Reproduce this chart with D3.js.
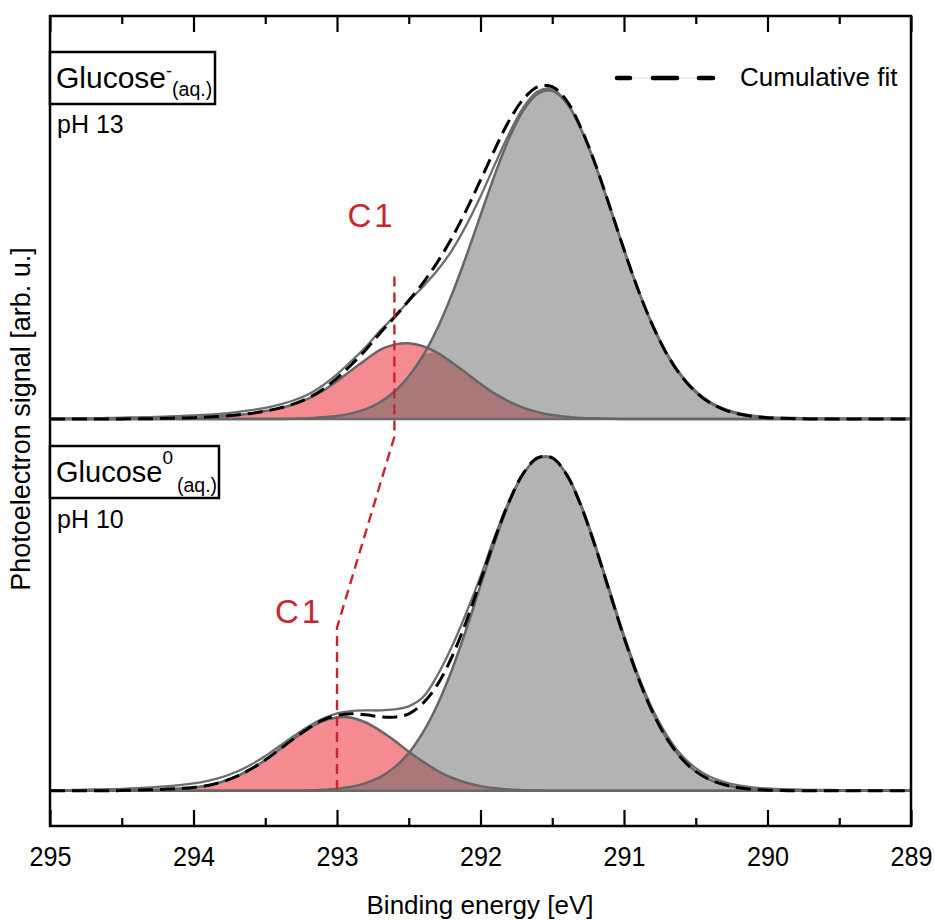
<!DOCTYPE html>
<html>
<head>
<meta charset="utf-8">
<script src="https://cdn.jsdelivr.net/npm/d3@7"></script>
<style>
  body { margin: 0; background: #fff; }
  text { font-family: "Liberation Sans", Arial, Helvetica, sans-serif; }
</style>
</head>
<body>
<script>
// binding energy grid (eV), high -> low like the plot
let energies = [295.0, 294.9, 294.8, 294.7, 294.6, 294.5, 294.4, 294.3, 294.2, 294.1,
  294.0, 293.9, 293.8, 293.7, 293.6, 293.5, 293.4, 293.3, 293.2, 293.1,
  293.0, 292.9, 292.8, 292.7, 292.6, 292.5, 292.4, 292.3, 292.2, 292.1,
  292.0, 291.9, 291.8, 291.7, 291.6, 291.5, 291.4, 291.3, 291.2, 291.1,
  291.0, 290.9, 290.8, 290.7, 290.6, 290.5, 290.4, 290.3, 290.2, 290.1,
  290.0, 289.9, 289.8, 289.7, 289.6, 289.5, 289.4, 289.3, 289.2, 289.1, 289.0];

// top panel: Glucose- (pH 13)
let grayTop = [0, 0, 0, 0, 0, 0, 0, 0, 0, 0, 0, 0, 0, 0, 0, 0, 0,
  .001, .002, .005, .009, .017, .030, .051, .083, .130, .193, .276, .378, .494, .619, .743, .854, .939, .989, .998,
  .961, .882, .773, .646, .515, .391, .284, .196, .130, .082, .049, .028, .015, .008, .004, .002, .001,
  0, 0, 0, 0, 0, 0, 0, 0];
let redTop = [0, 0, 0, 0, 0, 0,
  .001, .001, .002, .003, .004, .006, .008, .012, .017, .024, .033, .045, .062, .085, .115, .148, .180, .210, .226, .230,
  .221, .201, .172, .140, .107, .077, .053, .034, .021, .012, .007, .003, .002, .001,
  0, 0, 0, 0, 0, 0, 0, 0, 0, 0, 0, 0, 0, 0, 0, 0, 0, 0, 0, 0, 0];
let fitTop = [0, 0, 0, 0, 0, 0,
  .001, .001, .002, .003, .004, .006, .008, .012, .017, .024, .033, .046, .064, .090, .124, .165, .210, .261, .309, .360,
  .414, .477, .550, .634, .726, .820, .907, .973, 1.010, 1.010, .968, .885, .775, .647, .515, .391, .284, .196, .130, .082,
  .049, .028, .015, .008, .004, .002, .001,
  0, 0, 0, 0, 0, 0, 0, 0];
let dataTop = [.001, .001, .002, .002, .003, .004, .005, .006, .007, .009, .011, .013, .016, .021, .027, .034, .044, .057, .075, .102,
  .136, .176, .219, .268, .312, .358, .403, .452, .512, .588, .676, .774, .868, .948, .996, 1.003, .963, .881, .772, .645,
  .514, .391, .285, .198, .133, .085, .052, .031, .018, .010, .006, .004, .003, .002, .002, .001, .001, .001, .001, .001, .001];

// bottom panel: Glucose0 (pH 10)
let grayBot = [0, 0, 0, 0, 0, 0, 0, 0, 0, 0, 0, 0, 0, 0, 0, 0, 0, 0,
  .001, .003, .006, .012, .023, .041, .070, .113, .175, .257, .360, .481, .613, .744, .860, .947, .994, .994,
  .944, .851, .729, .593, .458, .336, .234, .155, .097, .058, .033, .018, .009, .004, .002, .001,
  0, 0, 0, 0, 0, 0, 0, 0, 0];
let redBot = [0, 0, 0, 0, 0,
  .001, .002, .003, .005, .007, .010, .016, .027, .043, .065, .092, .124, .156, .185, .208, .219, .218, .204, .180, .150,
  .117, .087, .060, .039, .024, .014, .008, .004, .002, .001,
  0, 0, 0, 0, 0, 0, 0, 0, 0, 0, 0, 0, 0, 0, 0, 0, 0, 0, 0, 0, 0, 0, 0, 0, 0, 0];
let fitBot = [0, 0, 0, 0, 0,
  .001, .002, .003, .005, .007, .010, .016, .027, .043, .065, .092, .124, .156, .186, .211, .225, .230, .227, .221, .220,
  .230, .262, .317, .399, .505, .627, .752, .864, .949, .995, .994, .944, .851, .729, .593, .458, .336, .234, .155, .097,
  .058, .033, .018, .009, .004, .002, .001,
  0, 0, 0, 0, 0, 0, 0, 0, 0];
let dataBot = [.002, .002, .003, .004, .005, .006, .008, .010, .013, .017, .022, .030, .041, .057, .078, .104, .134, .164, .192, .215,
  .231, .238, .240, .240, .243, .252, .280, .345, .430, .530, .640, .760, .866, .948, .992, .993, .946, .855, .734, .599,
  .465, .344, .243, .165, .107, .068, .042, .026, .016, .010, .007, .005, .004, .003, .003, .002, .002, .002, .002, .002, .002];

let majorTicks = [295, 294, 293, 292, 291, 290, 289];
let minorTicks = [294.5, 293.5, 292.5, 291.5, 290.5, 289.5];

// C1 marker energies: pH 13 peak, pH 10 peak
let c1Energies = [292.6, 293.0];

let svg = d3.select('body').append('svg')
  .attr('width', 935)
  .attr('height', 920);

let x = d3.scaleLinear().domain([295, 289]).range([50, 911]);
let yTop = d3.scaleLinear().domain([0, 1.225]).range([419, 16]);
let yBot = d3.scaleLinear().domain([-0.105, 1.11]).range([826, 419]);

let curve = d3.curveCatmullRom.alpha(0.5);

let panels = [
  {y: yTop, gray: grayTop, red: redTop, fit: fitTop, data: dataTop},
  {y: yBot, gray: grayBot, red: redBot, fit: fitBot, data: dataBot}
];

panels.forEach(function(p) {
  let area = function(vals) {
    return d3.area()
      .x(function(d, i) { return x(energies[i]); })
      .y0(p.y(0))
      .y1(function(d) { return p.y(Math.max(d, 0)); })
      .curve(curve)(vals);
  };
  let line = function(vals) {
    return d3.line()
      .x(function(d, i) { return x(energies[i]); })
      .y(function(d) { return p.y(d); })
      .curve(curve)(vals);
  };
  let overlap = p.gray.map(function(g, i) { return Math.min(g, p.red[i]); });

  let g = svg.append('g');
  g.append('path').attr('d', area(p.gray)).attr('fill', '#b3b3b3');
  g.append('path').attr('d', area(p.red)).attr('fill', '#f48b90');
  g.append('path').attr('d', area(overlap)).attr('fill', '#aa7878');

  // baseline
  g.append('line')
    .attr('x1', x(295)).attr('x2', x(289))
    .attr('y1', p.y(0)).attr('y2', p.y(0))
    .attr('stroke', '#6a6a6a').attr('stroke-width', 2.5);

  g.append('path').attr('d', line(p.gray))
    .attr('fill', 'none').attr('stroke', '#666').attr('stroke-width', 2.5);
  g.append('path').attr('d', line(p.red))
    .attr('fill', 'none').attr('stroke', '#666').attr('stroke-width', 2.5);
  g.append('path').attr('d', line(p.data))
    .attr('fill', 'none').attr('stroke', '#6e6e6e').attr('stroke-width', 2.3);
  g.append('path').attr('d', line(p.fit))
    .attr('fill', 'none').attr('stroke', '#000').attr('stroke-width', 3)
    .attr('stroke-dasharray', '15,7');
});

// C1 guide line from top peak position to bottom peak position
let c1Path = [
  [x(c1Energies[0]), yTop(0.433)],
  [x(c1Energies[0]), yTop(-0.054)],
  [x(c1Energies[1]), yBot(0.487)],
  [x(c1Energies[1]), yBot(-0.015)]
];
svg.append('path')
  .attr('d', d3.line()(c1Path))
  .attr('fill', 'none')
  .attr('stroke', '#c6262e')
  .attr('stroke-width', 2.4)
  .attr('stroke-dasharray', '10,6');

svg.append('text')
  .attr('x', x(c1Energies[0]) - 47).attr('y', yTop(0.584))
  .attr('font-size', 33).attr('letter-spacing', 3)
  .attr('fill', '#c6262e').text('C1');
svg.append('text')
  .attr('x', x(c1Energies[1]) - 62).attr('y', yBot(0.5))
  .attr('font-size', 33).attr('letter-spacing', 3)
  .attr('fill', '#c6262e').text('C1');

// frame
svg.append('rect')
  .attr('x', 50).attr('y', 16).attr('width', 861).attr('height', 810)
  .attr('fill', 'none').attr('stroke', '#000').attr('stroke-width', 2.5);

// ticks
let bottomMajor = d3.axisBottom(x).tickValues(majorTicks).tickSize(-16).tickSizeOuter(0)
  .tickPadding(20).tickFormat(d3.format('d'));
let bottomMinor = d3.axisBottom(x).tickValues(minorTicks).tickSize(-8).tickSizeOuter(0).tickFormat('');
let topMajor = d3.axisTop(x).tickValues(majorTicks).tickSize(-16).tickSizeOuter(0).tickFormat('');
let topMinor = d3.axisTop(x).tickValues(minorTicks).tickSize(-8).tickSizeOuter(0).tickFormat('');

[[bottomMajor, 826], [bottomMinor, 826], [topMajor, 16], [topMinor, 16]].forEach(function(a) {
  let ax = svg.append('g').attr('transform', 'translate(0,' + a[1] + ')').call(a[0]);
  ax.select('.domain').remove();
  ax.selectAll('line').attr('stroke', '#000').attr('stroke-width', 2.2);
  ax.selectAll('text')
    .attr('font-size', 28)
    .attr('font-family', '"Liberation Sans", Arial, sans-serif')
    .attr('transform', 'scale(0.9,1)')
    .attr('fill', '#000');
});

// axis titles
svg.append('text')
  .attr('x', 480).attr('y', 914)
  .attr('text-anchor', 'middle').attr('font-size', 26)
  .text('Binding energy [eV]');
svg.append('text')
  .attr('transform', 'translate(30,419) rotate(-90)')
  .attr('text-anchor', 'middle').attr('font-size', 27)
  .text('Photoelectron signal [arb. u.]');

// sample boxes
svg.append('rect').attr('x', 50).attr('y', 52).attr('width', 165).attr('height', 52)
  .attr('fill', '#fff').attr('stroke', '#000').attr('stroke-width', 2.5);
let t1 = svg.append('text').attr('x', 56).attr('y', 88).attr('font-size', 30);
t1.append('tspan').text('Glucose');
t1.append('tspan').attr('font-size', 18).attr('dy', -11).attr('dx', 0).text('-');
t1.append('tspan').attr('font-size', 19.5).attr('dy', 19).attr('dx', 0).text('(aq.)');

svg.append('rect').attr('x', 50).attr('y', 446).attr('width', 169).attr('height', 52)
  .attr('fill', '#fff').attr('stroke', '#000').attr('stroke-width', 2.5);
let t2 = svg.append('text').attr('x', 56).attr('y', 482).attr('font-size', 29);
t2.append('tspan').text('Glucose');
t2.append('tspan').attr('font-size', 19).attr('dy', -18).attr('dx', 0).text('0');
t2.append('tspan').attr('font-size', 19.5).attr('dy', 28).attr('dx', 4).text('(aq.)');

svg.append('text').attr('x', 57).attr('y', 133).attr('font-size', 25).text('pH 13');
svg.append('text').attr('x', 57).attr('y', 528).attr('font-size', 25).text('pH 10');

// legend
svg.append('line')
  .attr('x1', 617).attr('x2', 715).attr('y1', 78).attr('y2', 78)
  .attr('stroke', '#ddd').attr('stroke-width', 1);
svg.append('line')
  .attr('x1', 617).attr('x2', 715).attr('y1', 78).attr('y2', 78)
  .attr('stroke', '#000').attr('stroke-width', 4.5).attr('stroke-linecap', 'round')
  .attr('stroke-dasharray', '13,23,24,22,14');
svg.append('text').attr('x', 740).attr('y', 86).attr('font-size', 26).text('Cumulative fit');
</script>
</body>
</html>
